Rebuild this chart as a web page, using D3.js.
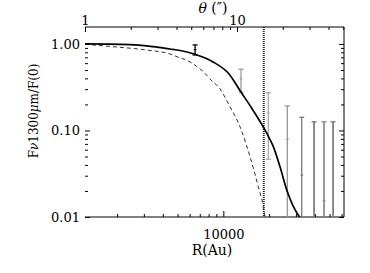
<!DOCTYPE html>
<html>
<head>
<meta charset="utf-8">
<script src="https://cdn.jsdelivr.net/npm/d3@7"></script>
<style>
  body { margin: 0; background: #fff; }
  svg text { font-family: "DejaVu Serif", serif; fill: #000; }
</style>
</head>
<body>
<div id="chart"></div>
<script>
// radial profile of the 1300um emission, normalised to the centre

// model curve (solid)
var solidR = [1230, 1800, 3130, 4460, 5190, 6510, 8550, 10900, 13020, 15380, 17430, 19300, 21330, 23600, 26100, 28900, 31960];
var solidF = [1.00, 0.995, 0.95, 0.875, 0.84, 0.76, 0.62, 0.45, 0.28, 0.181, 0.127, 0.093, 0.065, 0.038, 0.0206, 0.0132, 0.0098];

// beam (dashed)
var dashR = [1230, 1880, 3130, 4460, 5190, 5740, 6680, 7390, 8590, 9050, 11060, 12880, 14990, 16990, 18330, 18800];
var dashF = [0.99, 0.93, 0.85, 0.766, 0.69, 0.65, 0.55, 0.478, 0.36, 0.336, 0.188, 0.110, 0.0497, 0.0223, 0.0132, 0.0101];

// measured points with errors
var obsR   = [6520, 13070, 19770, 26360, 32800, 39520, 45970, 52700];
var obsF   = [0.86, 0.394, 0.16, 0.079, 0.0306, 0.008, 0.0154, 0.008];
var obsLo  = [0.746, 0.277, 0.0465, 0, 0, 0, 0, 0];
var obsHi  = [0.974, 0.51, 0.273, 0.192, 0.142, 0.126, 0.126, 0.126];
var obsCol = ["#000", "#999", "#aaa", "#999", "#777", "#777", "#888", "#777"];

var cutTheta = 15;        // dotted line, arcsec
var auPerArcsec = 1230;   // R = 1230 * theta

var xMajor = [10000];
var xMinor = [2000, 3000, 4000, 5000, 6000, 7000, 8000, 9000, 20000, 30000, 40000, 50000, 60000];
var tMajor = [1, 10];
var tMinor = [2, 3, 4, 5, 6, 7, 8, 9, 20, 30, 40, 50];
var yMajor = [0.01, 0.1, 1];
var yMinor = [0.02, 0.03, 0.04, 0.05, 0.06, 0.07, 0.08, 0.09, 0.2, 0.3, 0.4, 0.5, 0.6, 0.7, 0.8, 0.9];

var W = 370, H = 273;
var L = 85, R = 344, T = 27, B = 217;

var xDom = [1230, 62200];
var x = d3.scaleLog().domain(xDom).range([L, R]);
var xt = d3.scaleLog().domain([xDom[0] / auPerArcsec, xDom[1] / auPerArcsec]).range([L, R]);
var y = d3.scaleLog().domain([0.01, 1.57]).range([B, T]);

var svg = d3.select("#chart").append("svg")
  .attr("width", W).attr("height", H);

svg.append("clipPath").attr("id", "clip")
  .append("rect").attr("x", L).attr("y", T).attr("width", R - L).attr("height", B - T);

var fmtY = d3.format(".2f");

function axis(gen, pos, vals, len, fmt, pad) {
  var g = svg.append("g")
    .attr("transform", pos)
    .call(gen.tickValues(vals).tickSizeInner(-len).tickSizeOuter(0)
      .tickPadding(pad).tickFormat(fmt));
  g.select(".domain").remove();
  g.selectAll("line").attr("stroke", "#000");
  g.selectAll("text").attr("font-size", 13).attr("font-family", null);
  return g;
}

// bottom
axis(d3.axisBottom(x), "translate(0," + B + ")", xMajor, 6, d3.format("d"), 13);
axis(d3.axisBottom(x), "translate(0," + B + ")", xMinor, 3, "", 0);
// top
axis(d3.axisTop(xt), "translate(0," + T + ")", tMajor, 5, d3.format("d"), 2);
axis(d3.axisTop(xt), "translate(0," + T + ")", tMinor, 3, "", 0);
// left
axis(d3.axisLeft(y), "translate(" + L + ",0)", yMajor, 5, fmtY, 5);
axis(d3.axisLeft(y), "translate(" + L + ",0)", yMinor, 3, "", 0);
// right
axis(d3.axisRight(y), "translate(" + R + ",0)", yMajor, 5, "", 0);
axis(d3.axisRight(y), "translate(" + R + ",0)", yMinor, 3, "", 0);

// frame (no left spine in the original)
svg.append("path")
  .attr("d", "M" + L + "," + T + "H" + R + "V" + B + "H" + L)
  .attr("fill", "none").attr("stroke", "#000").attr("stroke-width", 1);

var plot = svg.append("g").attr("clip-path", "url(#clip)");

// dotted cut
var cx = x(cutTheta * auPerArcsec);
plot.append("line")
  .attr("x1", cx).attr("x2", cx).attr("y1", T).attr("y2", B)
  .attr("stroke", "#222").attr("stroke-width", 2).attr("stroke-dasharray", "1,1");

// error bars
var floorF = y.domain()[0];
obsR.forEach(function(r, i) {
  var px = x(r);
  var top = y(obsHi[i]);
  var bot = y(Math.max(obsLo[i], floorF));
  var c = obsCol[i];
  var sw = i >= 5 ? 1.7 : 1.3;
  plot.append("line").attr("x1", px).attr("x2", px).attr("y1", top).attr("y2", bot)
    .attr("stroke", c).attr("stroke-width", sw);
  plot.append("line").attr("x1", px - 2.5).attr("x2", px + 2.5).attr("y1", top).attr("y2", top)
    .attr("stroke", c).attr("stroke-width", 1.3);
  if (obsLo[i] > floorF) {
    plot.append("line").attr("x1", px - 2.5).attr("x2", px + 2.5).attr("y1", bot).attr("y2", bot)
      .attr("stroke", c).attr("stroke-width", 1.3);
  }
  if (obsF[i] > floorF) {
    plot.append("line").attr("x1", px - 1.5).attr("x2", px + 1.5).attr("y1", y(obsF[i])).attr("y2", y(obsF[i]))
      .attr("stroke", c).attr("stroke-width", 1);
  }
});

var line = d3.line()
  .x(function(d) { return x(d[0]); })
  .y(function(d) { return y(d[1]); })
  .curve(d3.curveMonotoneX);

plot.append("path")
  .datum(d3.zip(dashR, dashF))
  .attr("d", line)
  .attr("fill", "none").attr("stroke", "#333").attr("stroke-width", 1)
  .attr("stroke-dasharray", "4,3");

plot.append("path")
  .datum(d3.zip(solidR, solidF))
  .attr("d", line)
  .attr("fill", "none").attr("stroke", "#000").attr("stroke-width", 1.7);

// titles
svg.append("text")
  .attr("x", 212).attr("y", 255).attr("text-anchor", "middle")
  .attr("font-size", 14).text("R(Au)");

var tt = svg.append("text")
  .attr("x", 213).attr("y", 13).attr("text-anchor", "middle").attr("font-size", 14);
tt.append("tspan").attr("font-style", "italic").text("θ");
tt.append("tspan").text(" (″)");

var yl = svg.append("text")
  .attr("transform", "translate(38,111) rotate(-90)")
  .attr("text-anchor", "middle").attr("font-size", 12);
yl.append("tspan").text("F");
yl.append("tspan").attr("font-style", "italic").text("ν");
yl.append("tspan").text("1300");
yl.append("tspan").attr("font-style", "italic").text("μ");
yl.append("tspan").text("m/F(0)");
</script>
</body>
</html>
